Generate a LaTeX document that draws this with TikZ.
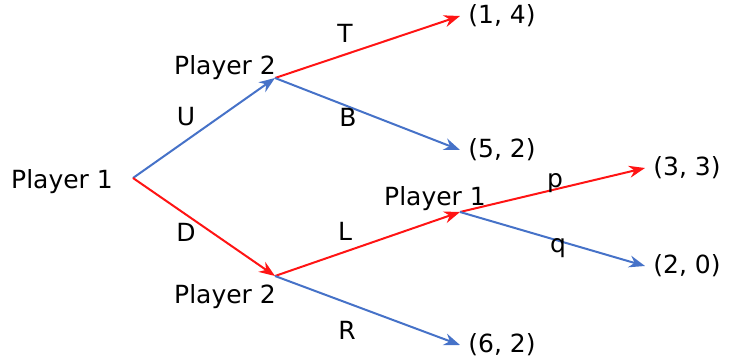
\documentclass[tikz,border=0pt]{standalone}
\usepackage{fontspec}
\setmainfont{DejaVu Sans}
\usetikzlibrary{arrows.meta}

\definecolor{movered}{RGB}{255,20,20}
\definecolor{moveblue}{RGB}{70,114,200}

\begin{document}
\begin{tikzpicture}[x=0.5pt,y=-0.5pt,>={Stealth[length=8pt,width=6pt]},
  font=\fontsize{12.5}{14}\selectfont,
  redmove/.style={->,movered,line width=1pt},
  bluemove/.style={->,moveblue,line width=1pt},
  pay/.style={anchor=west,inner sep=4pt}]
\useasboundingbox (0,0) rectangle (731,363);
\coordinate (n1) at (133,178);
\coordinate (n2u) at (275,78);
\coordinate (n2d) at (275,276);
\coordinate (n1b) at (460,212);
\node (lab1) at (62,182) {Player 1};
\node (lab2u) at (225,68) {Player 2};
\node (lab2d) at (225,297) {Player 2};
\node (lab1b) at (435,199) {Player 1};
\node[pay] (pay14) at (460,16) {(1, 4)};
\node[pay] (pay52) at (460,150) {(5, 2)};
\node[pay] (pay62) at (460,345) {(6, 2)};
\node[pay] (pay33) at (645,168) {(3, 3)};
\node[pay] (pay20) at (645,266) {(2, 0)};
\draw[bluemove] (n1)--(n2u);
\draw[redmove] (n1)--(n2d);
\draw[redmove] (n2u)--(pay14.west);
\draw[bluemove] (n2u)--(pay52.west);
\draw[redmove] (n2d)--(n1b);
\draw[bluemove] (n2d)--(pay62.west);
\draw[redmove] (n1b)--(pay33.west);
\draw[bluemove] (n1b)--(pay20.west);
\node (mU) at (186,117) {U}; \node (mD) at (186,232) {D};
\node (mT) at (345,33) {T}; \node (mB) at (348,117) {B};
\node (mL) at (345,231) {L}; \node (mR) at (347,330) {R};
\node (mp) at (555,183) {p}; \node (mq) at (558,248) {q};
\end{tikzpicture}
\end{document}
